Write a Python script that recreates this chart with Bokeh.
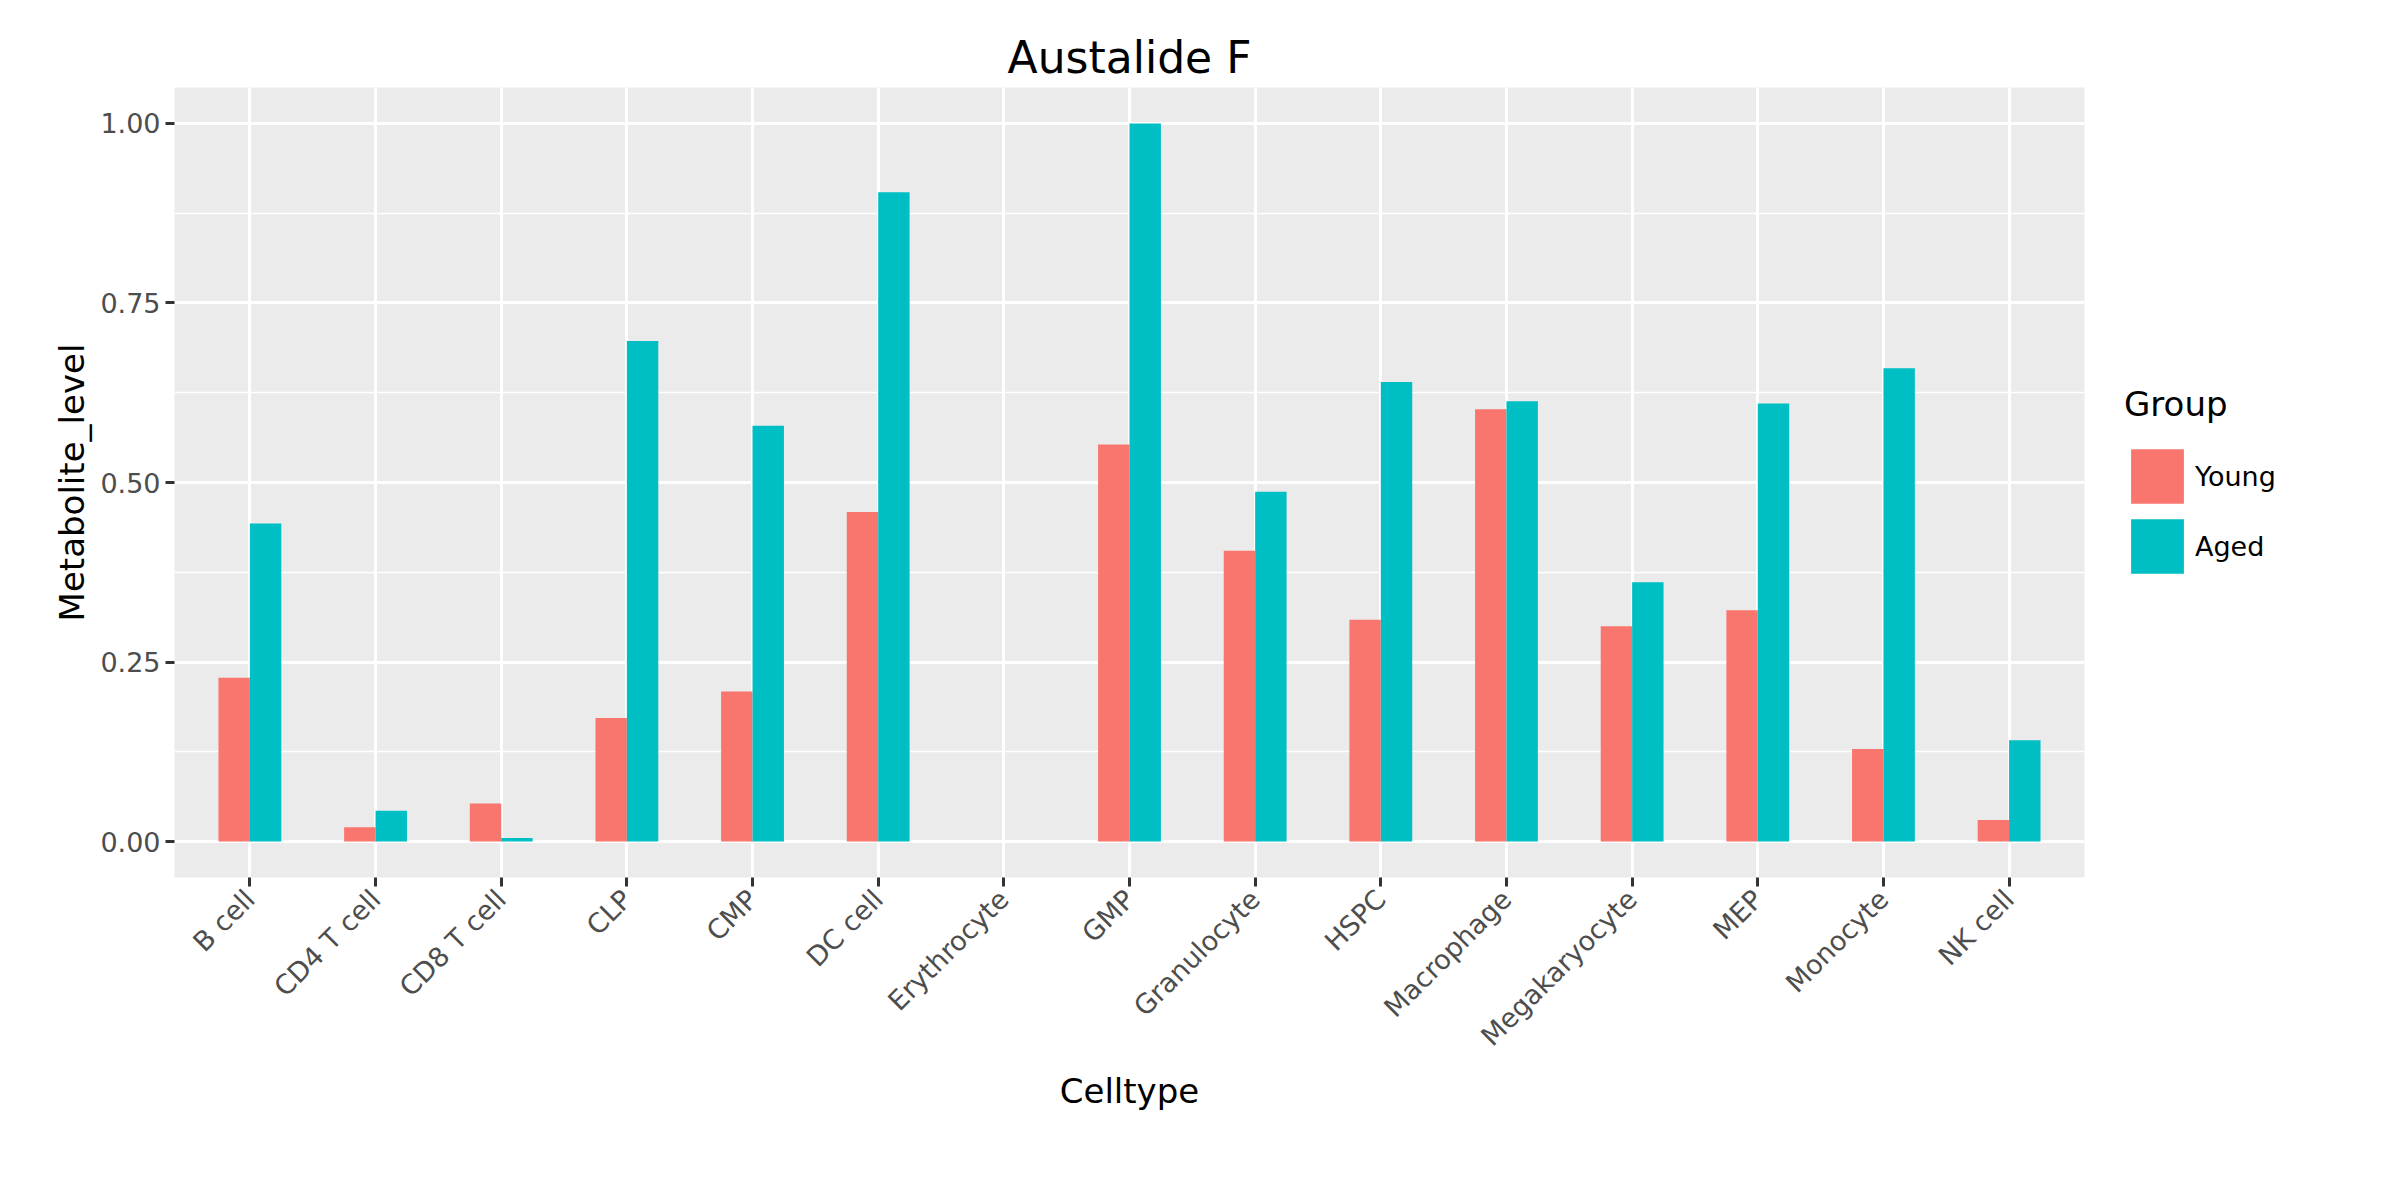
import numpy as np
from bokeh.plotting import figure
from bokeh.models import FixedTicker, Legend, LegendItem, Range1d
from bokeh.embed import file_html
from bokeh.resources import INLINE

celltypes = ["B cell", "CD4 T cell", "CD8 T cell", "CLP", "CMP", "DC cell", "Erythrocyte",
             "GMP", "Granulocyte", "HSPC", "Macrophage", "Megakaryocyte", "MEP", "Monocyte", "NK cell"]
young = [0.228, 0.020, 0.053, 0.172, 0.209, 0.459, 0.0, 0.553, 0.405, 0.309, 0.602, 0.300, 0.322, 0.129, 0.030]
aged = [0.443, 0.043, 0.005, 0.697, 0.579, 0.904, 0.0, 1.000, 0.487, 0.640, 0.613, 0.361, 0.610, 0.659, 0.141]
y_ticks = [0.0, 0.25, 0.5, 0.75, 1.0]
y_labels = ["0.00", "0.25", "0.50", "0.75", "1.00"]

FONT = "DejaVu Sans"
pos = np.arange(1, len(celltypes) + 1)

p = figure(width=2384, height=1184, output_backend="svg", toolbar_location=None,
           x_range=Range1d(0.4, 15.6), y_range=Range1d(-0.05, 1.05),
           frame_width=1910, frame_height=790,
           min_border_left=174, min_border_top=87, min_border_right=300, min_border_bottom=307,
           title="Austalide F")
p.background_fill_color = "#EBEBEB"
p.border_fill_color = "white"
p.outline_line_color = None

r_young = p.vbar(x=pos - 0.125, top=young, width=0.25, fill_color="#F8766D", line_color=None)
r_aged = p.vbar(x=pos + 0.125, top=aged, width=0.25, fill_color="#00BFC4", line_color=None)

p.title.align = "center"
p.title.text_font = FONT
p.title.text_font_size = "44px"
p.title.text_font_style = "normal"
p.title.text_color = "black"

p.xaxis.ticker = FixedTicker(ticks=list(pos))
p.xaxis.major_label_overrides = {int(i): c for i, c in zip(pos, celltypes)}
p.xaxis.major_label_orientation = np.pi / 4
p.xaxis.major_label_standoff = 8
p.yaxis.ticker = FixedTicker(ticks=y_ticks, minor_ticks=[-0.125 + 0.25 * i for i in range(6)])
p.yaxis.major_label_overrides = dict(zip(y_ticks, y_labels))
p.xaxis.axis_label = "Celltype"
p.yaxis.axis_label = "Metabolite_level"
for ax in (p.xaxis, p.yaxis):
    ax.axis_line_color = None
    ax.major_tick_line_color = "#333333"
    ax.major_tick_line_width = 3
    ax.major_tick_out = 9
    ax.major_tick_in = 0
    ax.minor_tick_line_color = None
    ax.major_label_text_font = FONT
    ax.major_label_text_font_size = "27px"
    ax.major_label_text_color = "#4D4D4D"
    ax.axis_label_text_font = FONT
    ax.axis_label_text_font_size = "34px"
    ax.axis_label_text_font_style = "normal"
    ax.axis_label_text_color = "black"

p.xgrid.grid_line_color = "white"
p.xgrid.grid_line_width = 3
p.ygrid.grid_line_color = "white"
p.ygrid.grid_line_width = 3
p.ygrid.minor_grid_line_color = "white"
p.ygrid.minor_grid_line_width = 1.5

legend = Legend(items=[LegendItem(label="Young", renderers=[r_young]),
                       LegendItem(label="Aged", renderers=[r_aged])],
                location="left", title="Group")
legend.margin = 40
legend.title_text_font = FONT
legend.title_text_font_size = "34px"
legend.title_text_font_style = "normal"
legend.title_text_color = "black"
legend.label_text_font = FONT
legend.label_text_font_size = "27px"
legend.label_text_color = "black"
legend.glyph_width = 66
legend.glyph_height = 68
legend.spacing = 2
legend.border_line_color = None
legend.background_fill_alpha = 0
legend.title_standoff = 18
p.add_layout(legend, "right")

open("out.html", "w").write(file_html(p, INLINE))
